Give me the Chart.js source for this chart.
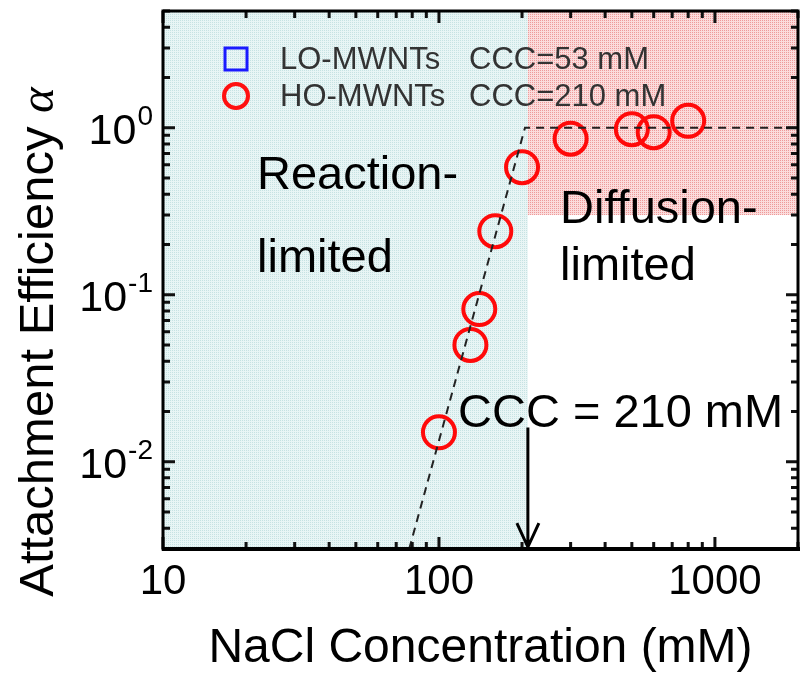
<!DOCTYPE html>
<html>
<head>
<meta charset="utf-8">
<script src="https://cdn.jsdelivr.net/npm/chart.js@4.4.0/dist/chart.umd.min.js"></script>
<style>
  html, body { margin: 0; padding: 0; background: #fff; }
  #wrap { width: 801px; height: 678px; }
</style>
</head>
<body>
<div id="wrap"><canvas id="ccc" width="801" height="678"></canvas></div>
<script>
// HO-MWNTs: attachment efficiency vs NaCl (mM)
const naclHO = [100, 130, 140, 160, 200, 300, 500, 600, 800];
const alphaHO = [0.015, 0.05, 0.082, 0.24, 0.58, 0.86, 0.98, 0.94, 1.1];

// dashed guide: reaction-limited slope, then diffusion-limited plateau
const fitX = [78, 205, 2000];
const fitY = [0.003, 1, 1];

const cccHO = 210;
const cccLO = 53;

const xTicks = [10, 100, 1000];
const yTicks = [0.01, 0.1, 1];
const yTickExp = ['-2', '-1', '0'];

const xRange = [10, 2000];
const yRange = [0.003, 5];
const diffusionFloor = 0.3;
const arrowTop = 0.016;

const FONT = '"Liberation Sans", Arial, sans-serif';
Chart.defaults.font.family = FONT;

// little dotted fills, like the original shading
function dotPattern(ctx, base, dot) {
  const c = document.createElement('canvas');
  c.width = 2; c.height = 2;
  const g = c.getContext('2d');
  g.fillStyle = base; g.fillRect(0, 0, 2, 2);
  g.fillStyle = dot; g.fillRect(0, 0, 1, 1);
  return ctx.createPattern(c, 'repeat');
}

const decor = {
  id: 'decor',
  beforeDatasetsDraw(chart) {
    const { ctx, chartArea: a, scales: { x, y } } = chart;
    const xc = x.getPixelForValue(cccHO);
    ctx.save();
    ctx.fillStyle = dotPattern(ctx, '#e8f5f5', '#c6e2e2');
    ctx.fillRect(a.left, a.top, xc - a.left, a.bottom - a.top);
    ctx.fillStyle = dotPattern(ctx, '#fbdcdc', '#ee9a9a');
    const yf = y.getPixelForValue(diffusionFloor);
    ctx.fillRect(xc, a.top, a.right - xc, yf - a.top);
    ctx.restore();
  },
  afterDatasetsDraw(chart) {
    const { ctx, chartArea: a, scales: { x, y } } = chart;
    ctx.save();

    // inward tick marks on all four sides
    ctx.strokeStyle = '#111';
    ctx.lineWidth = 3;
    const xMinor = [], yMinor = [];
    [10, 100, 1000].forEach(d => { for (let k = 1; k < 10; k++) if (k * d <= xRange[1]) xMinor.push(k * d); });
    [0.001, 0.01, 0.1, 1].forEach(d => { for (let k = 1; k < 10; k++) { const v = +(k * d).toPrecision(3); if (v >= yRange[0] && v <= yRange[1]) yMinor.push(v); } });
    xMinor.forEach(v => {
      const px = x.getPixelForValue(v);
      const len = xTicks.includes(v) ? 12 : 7;
      ctx.beginPath();
      ctx.moveTo(px, a.bottom); ctx.lineTo(px, a.bottom - len);
      ctx.moveTo(px, a.top); ctx.lineTo(px, a.top + len);
      ctx.stroke();
    });
    yMinor.forEach(v => {
      const py = y.getPixelForValue(v);
      const len = yTicks.includes(v) ? 12 : 7;
      ctx.beginPath();
      ctx.moveTo(a.left, py); ctx.lineTo(a.left + len, py);
      ctx.moveTo(a.right, py); ctx.lineTo(a.right - len, py);
      ctx.stroke();
    });

    // frame
    ctx.strokeStyle = '#000';
    ctx.lineWidth = 3;
    ctx.strokeRect(a.left, a.top, a.right - a.left, a.bottom - a.top);
    ctx.lineWidth = 4;
    ctx.beginPath(); ctx.moveTo(a.left - 1, a.bottom); ctx.lineTo(a.right + 2, a.bottom); ctx.stroke();

    // y tick labels as 10^n
    ctx.fillStyle = '#000';
    ctx.textBaseline = 'alphabetic';
    ctx.textAlign = 'left';
    yTicks.forEach((v, i) => {
      const py = y.getPixelForValue(v);
      ctx.font = '28px ' + FONT;
      const sw = ctx.measureText(yTickExp[i]).width;
      const sx = 153 - sw;
      ctx.fillText(yTickExp[i], sx, py - 3);
      ctx.font = '43px ' + FONT;
      const mw = ctx.measureText('10').width;
      ctx.fillText('10', sx - mw - 1, py + 16);
    });

    // y title with italic alpha
    ctx.save();
    ctx.translate(53, 342);
    ctx.rotate(-Math.PI / 2);
    ctx.font = '49px ' + FONT;
    const t1 = 'Attachment Efficiency ';
    const w1 = ctx.measureText(t1).width;
    ctx.font = 'italic 49px "Liberation Serif", "Times New Roman", serif';
    const w2 = ctx.measureText('α').width;
    const x0 = -(w1 + w2) / 2;
    ctx.font = '49px ' + FONT;
    ctx.fillText(t1, x0, 0);
    ctx.font = 'italic 49px "Liberation Serif", "Times New Roman", serif';
    ctx.fillText('α', x0 + w1, 0);
    ctx.restore();

    // legend
    ctx.strokeStyle = '#1a1aff';
    ctx.lineWidth = 3;
    ctx.strokeRect(225, 48, 22, 22);
    ctx.strokeStyle = '#ff1010';
    ctx.lineWidth = 4;
    ctx.beginPath(); ctx.arc(236, 96, 12, 0, Math.PI * 2); ctx.stroke();
    ctx.fillStyle = '#333';
    ctx.font = '31px ' + FONT;
    ctx.fillText('LO-MWNTs', 280, 69);
    ctx.fillText('HO-MWNTs', 280, 106);
    ctx.fillText('CCC=' + cccLO + ' mM', 469, 69);
    ctx.fillText('CCC=' + cccHO + ' mM', 469, 106);

    // regime labels
    ctx.fillStyle = '#000';
    ctx.font = '47px ' + FONT;
    ctx.fillText('Reaction-', 257, 189);
    ctx.fillText('limited', 257, 272);
    ctx.fillText('Diffusion-', 560, 223);
    ctx.fillText('limited', 560, 280);
    ctx.fillText('CCC = ' + cccHO + ' mM', 458, 427);

    // arrow at CCC
    const xa = x.getPixelForValue(cccHO);
    const ya = y.getPixelForValue(arrowTop);
    ctx.strokeStyle = '#000';
    ctx.lineWidth = 3;
    ctx.beginPath();
    ctx.moveTo(xa, ya); ctx.lineTo(xa, a.bottom - 2);
    ctx.moveTo(xa - 11, a.bottom - 26); ctx.lineTo(xa, a.bottom - 2); ctx.lineTo(xa + 11, a.bottom - 26);
    ctx.stroke();

    ctx.restore();
  }
};

new Chart(document.getElementById('ccc'), {
  type: 'scatter',
  data: {
    datasets: [
      {
        type: 'line',
        label: 'guide',
        data: fitX.map((v, i) => ({ x: v, y: fitY[i] })),
        borderColor: '#222',
        borderWidth: 2,
        borderDash: [8, 6],
        pointRadius: 0,
        fill: false,
        order: 0
      },
      {
        label: 'HO-MWNTs',
        data: naclHO.map((v, i) => ({ x: v, y: alphaHO[i] })),
        pointStyle: 'circle',
        pointRadius: 16,
        pointHoverRadius: 16,
        borderColor: '#ff0a0a',
        borderWidth: 4,
        backgroundColor: 'rgba(0,0,0,0)',
        order: 1
      }
    ]
  },
  options: {
    responsive: false,
    animation: false,
    layout: { autoPadding: false, padding: { top: 11, right: 3, left: 0, bottom: 0 } },
    plugins: { legend: { display: false }, tooltip: { enabled: false } },
    scales: {
      x: {
        type: 'logarithmic',
        position: 'bottom',
        min: xRange[0],
        max: xRange[1],
        grid: { display: false, drawTicks: false },
        border: { display: false },
        ticks: {
          color: '#000',
          font: { size: 42 },
          padding: 8,
          maxRotation: 0,
          autoSkip: false,
          callback: v => String(v)
        },
        afterBuildTicks: s => { s.ticks = xTicks.map(v => ({ value: v })); },
        afterFit: s => { s.height = 129; },
        title: {
          display: true,
          text: 'NaCl Concentration (mM)',
          color: '#000',
          font: { size: 48 },
          padding: { top: 0, bottom: 0 }
        }
      },
      y: {
        type: 'logarithmic',
        position: 'left',
        min: yRange[0],
        max: yRange[1],
        grid: { display: false, drawTicks: false },
        border: { display: false },
        ticks: { display: false },
        afterFit: s => { s.width = 163; }
      }
    }
  },
  plugins: [decor]
});
</script>
</body>
</html>
